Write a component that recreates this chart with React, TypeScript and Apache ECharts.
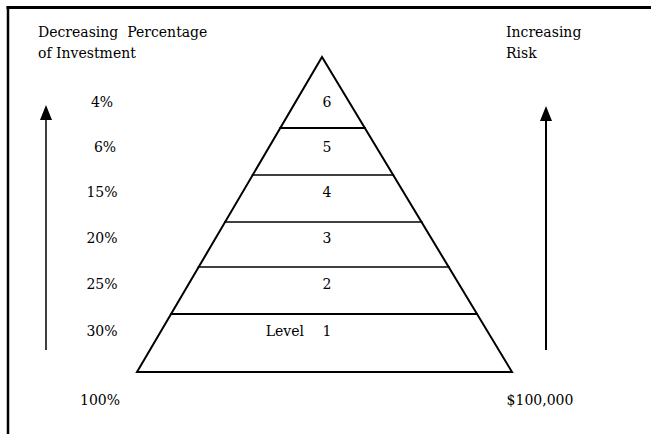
import React, { useEffect, useRef } from "react";
import * as echarts from "echarts";

// ---- content ----
const levelLabels = ["1", "2", "3", "4", "5", "6"];
const investmentShares = ["30%", "25%", "20%", "15%", "6%", "4%"];
const levelPrefix = "Level";
const totalShare = "100%";
const totalAmount = "$100,000";
const leftTitle = ["Decreasing  Percentage", "of Investment"];
const rightTitle = ["Increasing", "Risk"];

// ---- layout (diagram geometry in page units) ----
const APEX = { x: 322, y: 57 };
const BASE = { y: 372, left: 137, right: 512 };
const DIVIDER_Y = [372, 314, 267, 222, 175, 128]; // bottom boundary of each level
const DIVIDER_W = [0, 2, 1.5, 1.5, 1.5, 2.2];
const ROW_Y = [331, 284, 238, 192, 147, 102];
const LEVEL_X = 327;
const PCT_X = 102;
const FONT_FAMILY = '"DejaVu Serif", "Liberation Serif", serif';
const FONT_SIZE = 14;

function edgeX(y: number, side: "left" | "right") {
  const t = (y - APEX.y) / (BASE.y - APEX.y);
  const end = side === "left" ? BASE.left : BASE.right;
  return APEX.x + (end - APEX.x) * t;
}

function txt(p: number[], text: string, align = "center") {
  return {
    type: "text",
    x: p[0],
    y: p[1],
    style: {
      text,
      fill: "#000",
      fontFamily: FONT_FAMILY,
      fontSize: FONT_SIZE,
      align,
      verticalAlign: "middle",
    },
  };
}

export default function App() {
  const ref = useRef<HTMLDivElement>(null);
  useEffect(() => {
    if (!ref.current) return;
    const chart = echarts.init(ref.current, null, { renderer: "svg" });
    chart.setOption({
      animation: false,
      backgroundColor: "#fff",
      grid: { left: 0, right: 0, top: 0, bottom: 0 },
      xAxis: { type: "value", min: 0, max: 651, show: false },
      yAxis: { type: "value", min: 0, max: 434, inverse: true, show: false },
      series: [
        {
          type: "custom",
          clip: false,
          silent: true,
          data: levelLabels.map((_, i) => [i]),
          renderItem: (params: any, api: any) => {
            const i = params.dataIndex;
            const children: any[] = [];
            const y = DIVIDER_Y[i];
            if (i > 0) {
              const a = api.coord([edgeX(y, "left") - 1, y]);
              const b = api.coord([edgeX(y, "right") + 1, y]);
              children.push({
                type: "line",
                shape: { x1: a[0], y1: a[1], x2: b[0], y2: b[1] },
                style: { stroke: "#000", lineWidth: DIVIDER_W[i] },
              });
            }
            children.push(txt(api.coord([LEVEL_X, ROW_Y[i]]), levelLabels[i]));
            if (i === 0) {
              children.push(txt(api.coord([304, ROW_Y[i]]), levelPrefix, "right"));
            }
            children.push(txt(api.coord([i === 4 ? 105 : PCT_X, ROW_Y[i]]), investmentShares[i]));
            return { type: "group", children };
          },
        },
        {
          type: "custom",
          clip: false,
          silent: true,
          data: [[0]],
          renderItem: (_params: any, api: any) => {
            const c = (x: number, y: number) => api.coord([x, y]);
            const pts = [c(APEX.x, APEX.y), c(BASE.right, BASE.y), c(BASE.left, BASE.y)];
            const arrow = (x: number, top: number, bottom: number, w: number) => [
              {
                type: "line",
                shape: { x1: c(x, top + 12)[0], y1: c(x, top + 12)[1], x2: c(x, bottom)[0], y2: c(x, bottom)[1] },
                style: { stroke: "#000", lineWidth: w },
              },
              {
                type: "polygon",
                shape: { points: [c(x, top), c(x + 6, top + 15), c(x - 6, top + 15)] },
                style: { fill: "#000" },
              },
            ];
            return {
              type: "group",
              children: [
                {
                  type: "line",
                  shape: { x1: c(6.5, 7.5)[0], y1: c(6.5, 7.5)[1], x2: c(651, 7.5)[0], y2: c(651, 7.5)[1] },
                  style: { stroke: "#000", lineWidth: 3 },
                },
                {
                  type: "line",
                  shape: { x1: c(8, 6)[0], y1: c(8, 6)[1], x2: c(8, 434)[0], y2: c(8, 434)[1] },
                  style: { stroke: "#000", lineWidth: 2.5 },
                },
                {
                  type: "polygon",
                  shape: { points: pts },
                  style: { fill: "none", stroke: "#000", lineWidth: 2 },
                },
                ...arrow(46, 105, 350, 1.5),
                ...arrow(546, 106, 350, 2),
                txt(c(38, 32), leftTitle[0], "left"),
                txt(c(38, 53), leftTitle[1], "left"),
                txt(c(506, 32), rightTitle[0], "left"),
                txt(c(506, 53), rightTitle[1], "left"),
                txt(c(100, 400), totalShare),
                txt(c(540, 400), totalAmount),
              ],
            };
          },
        },
      ],
    });
    return () => chart.dispose();
  }, []);
  return (
    <div
      ref={ref}
      style={{ position: "absolute", left: 0, top: 0, width: 651, height: 434, background: "#fff" }}
    />
  );
}
